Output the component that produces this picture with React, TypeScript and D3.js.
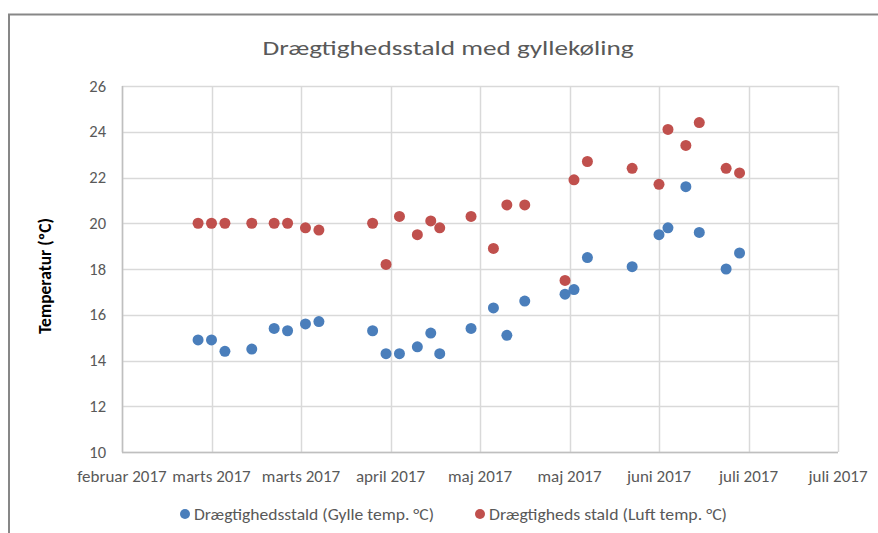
import React from "react";
import * as d3 from "d3";

const dates: string[] = [
  "2017-03-03", "2017-03-06", "2017-03-09", "2017-03-15", "2017-03-20", "2017-03-23",
  "2017-03-27", "2017-03-30", "2017-04-11", "2017-04-14", "2017-04-17", "2017-04-21",
  "2017-04-24", "2017-04-26", "2017-05-03", "2017-05-08", "2017-05-11", "2017-05-15",
  "2017-05-24", "2017-05-26", "2017-05-29", "2017-06-08", "2017-06-14", "2017-06-16",
  "2017-06-20", "2017-06-23", "2017-06-29", "2017-07-02",
];

const gylleTemp: number[] = [
  14.9, 14.9, 14.4, 14.5, 15.4, 15.3, 15.6, 15.7, 15.3, 14.3, 14.3, 14.6, 15.2, 14.3,
  15.4, 16.3, 15.1, 16.6, 16.9, 17.1, 18.5, 18.1, 19.5, 19.8, 21.6, 19.6, 18.0, 18.7,
];

const luftTemp: number[] = [
  20.0, 20.0, 20.0, 20.0, 20.0, 20.0, 19.8, 19.7, 20.0, 18.2, 20.3, 19.5, 20.1, 19.8,
  20.3, 18.9, 20.8, 20.8, 17.5, 21.9, 22.7, 22.4, 21.7, 24.1, 23.4, 24.4, 22.4, 22.2,
];

const xTickDates: string[] = [
  "2017-02-14", "2017-03-06", "2017-03-26", "2017-04-15", "2017-05-05",
  "2017-05-25", "2017-06-14", "2017-07-04", "2017-07-24",
];
const xTickLabels: string[] = [
  "februar 2017", "marts 2017", "marts 2017", "april 2017", "maj 2017",
  "maj 2017", "juni 2017", "juli 2017", "juli 2017",
];
const yTicks: number[] = [10, 12, 14, 16, 18, 20, 22, 24, 26];

const seriesNames: string[] = [
  "Drægtighedsstald (Gylle temp. °C)",
  "Drægtigheds stald (Luft temp. °C)",
];
const titleText = "Drægtighedsstald med gyllekøling";
const yAxisTitle = "Temperatur (ºC)";

const BLUE = "#4a7ebb";
const RED = "#c0504d";
const TEXT = "#595959";
const GRID = "#d9d9d9";
const FONT = "Calibri, Carlito, Lato, 'Open Sans', sans-serif";

const parse = (s: string) => new Date(s + "T00:00:00Z");

export default function App() {
  const W = 878;
  const H = 533;
  const left = 122, right = 838, top = 86, bottom = 452;

  const x = d3
    .scaleUtc()
    .domain([parse(xTickDates[0]), parse(xTickDates[xTickDates.length - 1])])
    .range([left, right]);
  const y = d3.scaleLinear().domain([10, 26]).range([bottom, top]);

  const gyllePts = dates.map((d, i) => ({ d: parse(d), v: gylleTemp[i] }));
  const luftPts = dates.map((d, i) => ({ d: parse(d), v: luftTemp[i] }));

  return (
    <svg
      width={W}
      height={H}
      style={{ position: "absolute", left: 0, top: 0, background: "#fff" }}
      fontFamily={FONT}
    >
      <rect x={0} y={0} width={W} height={H} fill="#fff" />
      <rect x={9} y={14.5} width={W + 20} height={H + 20} fill="none" stroke="#878787" strokeWidth={2} />

      <text x={448} y={55} textAnchor="middle" fontSize={21} fill={TEXT}
        textLength={371} lengthAdjust="spacingAndGlyphs">
        {titleText}
      </text>

      {/* gridlines */}
      {yTicks.map((t) => (
        <line key={"h" + t} x1={left} x2={right} y1={Math.round(y(t)) + 0.5} y2={Math.round(y(t)) + 0.5}
          stroke={GRID} strokeWidth={1.5} />
      ))}
      {xTickDates.map((t) => {
        const px = Math.round(x(parse(t))) + 0.5;
        return <line key={"v" + t} x1={px} x2={px} y1={top} y2={bottom} stroke={GRID} strokeWidth={1.5} />;
      })}
      {/* axes */}
      <line x1={left + 0.5} x2={left + 0.5} y1={top} y2={bottom + 0.5} stroke="#bfbfbf" strokeWidth={1.5} />
      <line x1={left} x2={right} y1={bottom + 0.5} y2={bottom + 0.5} stroke="#bfbfbf" strokeWidth={1.5} />

      {/* y tick labels */}
      {yTicks.map((t) => (
        <text key={"yl" + t} x={106} y={y(t) + 5.5} textAnchor="end" fontSize={16.5} fill={TEXT}>
          {t}
        </text>
      ))}
      {/* x tick labels */}
      {xTickDates.map((t, i) => (
        <text key={"xl" + i} x={x(parse(t))} y={481.5} textAnchor="middle" fontSize={17} fill={TEXT}>
          {xTickLabels[i]}
        </text>
      ))}

      <text transform={`translate(51,276) rotate(-90)`} textAnchor="middle" fontSize={17.5}
        fontWeight="bold" fill="#000">
        {yAxisTitle}
      </text>

      {/* points */}
      {gyllePts.map((p, i) => (
        <circle key={"g" + i} cx={x(p.d)} cy={y(p.v)} r={5.5} fill={BLUE} />
      ))}
      {luftPts.map((p, i) => (
        <circle key={"l" + i} cx={x(p.d)} cy={y(p.v)} r={5.5} fill={RED} />
      ))}

      {/* legend */}
      <circle cx={185} cy={514} r={5} fill={BLUE} />
      <text x={194} y={519.5} fontSize={16} fill={TEXT} textLength={240} lengthAdjust="spacingAndGlyphs">
        {seriesNames[0]}
      </text>
      <circle cx={480} cy={514} r={5} fill={RED} />
      <text x={489} y={519.5} fontSize={16} fill={TEXT} textLength={238} lengthAdjust="spacingAndGlyphs">
        {seriesNames[1]}
      </text>
    </svg>
  );
}
